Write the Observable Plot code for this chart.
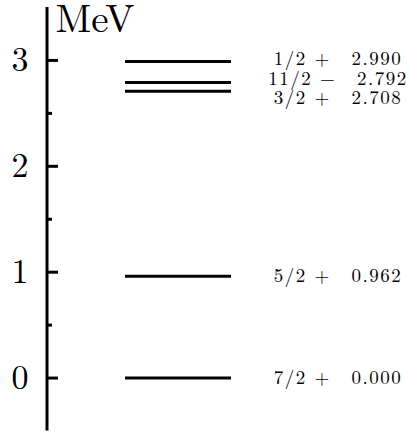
<!DOCTYPE html>
<html>
<head>
<meta charset="utf-8">
<script src="https://cdn.jsdelivr.net/npm/d3@7"></script>
<script src="https://cdn.jsdelivr.net/npm/@observablehq/plot@0.6"></script>
<style>
  html, body { margin: 0; padding: 0; background: #fff; }
</style>
</head>
<body>
<div id="chart"></div>
<script>
// ---- data ----
const energies = [0.000, 0.962, 2.708, 2.792, 2.990];
const spins = ["7/2 +", "5/2 +", "3/2 +", "11/2 \u2212", "1/2 +"];
const majorTicks = [0, 1, 2, 3];
const minorTicks = [0.5, 1.5, 2.5];
const unitLabel = "MeV";
const yDomain = [-0.5, 3.5];

// ---- layout ----
const W = 407, H = 431;
const axisX = 46.5, majorEnd = 58, minorEnd = 52;
const levelX1 = 125, levelX2 = 231;
const labelX = 337.5, tickLabelX = 19.5, unitX = 55;
const labelGap = 0.18; // min label separation (MeV units)
const font = "Latin Modern Roman, Liberation Serif, serif";

// label placement: spread overlapping labels symmetrically about their group mean
const levels = energies.map((e, i) => ({energy: e, spin: spins[i]}));
let groups = levels.slice().sort((a, b) => b.energy - a.energy).map(l => [l]);
const place = g => {
  const m = d3.mean(g, d => d.energy);
  g.forEach((l, i) => l.labelY = m + ((g.length - 1) / 2 - i) * labelGap);
};
groups.forEach(place);
let merged = true;
while (merged) {
  merged = false;
  for (let i = 0; i < groups.length - 1; i++) {
    const a = groups[i], b = groups[i + 1];
    if (a[a.length - 1].labelY - b[0].labelY < labelGap - 1e-9) {
      groups.splice(i, 2, a.concat(b));
      place(groups[i]);
      merged = true;
      break;
    }
  }
}
const labelText = d => `${d.spin}\u2003${d.energy.toFixed(3)}`;

const chart = Plot.plot({
  width: W,
  height: H,
  marginTop: 7,
  marginBottom: 0.5,
  marginLeft: 0,
  marginRight: 0,
  x: {domain: [0, W], range: [0, W], axis: null},
  y: {domain: yDomain, axis: null},
  marks: [
    Plot.ruleX([axisX], {y1: yDomain[0], y2: yDomain[1], stroke: "#000", strokeWidth: 3}),
    Plot.ruleY(majorTicks, {y: d => d, x1: axisX, x2: majorEnd, stroke: "#000", strokeWidth: 3}),
    Plot.ruleY(minorTicks, {y: d => d, x1: axisX, x2: minorEnd, stroke: "#000", strokeWidth: 3}),
    Plot.text(majorTicks, {x: tickLabelX, y: d => d, text: d => String(d), fontSize: 34, fontFamily: font, textAnchor: "middle", fill: "#000"}),
    Plot.text([unitLabel], {x: unitX, y: yDomain[1], text: d => d, fontSize: 39, fontFamily: font, textAnchor: "start", lineAnchor: "top", dy: -3, fill: "#000"}),
    Plot.ruleY(levels, {y: "energy", x1: levelX1, x2: levelX2, stroke: "#000", strokeWidth: 3}),
    Plot.text(levels, {x: labelX, y: "labelY", text: labelText, fontSize: 19, fontFamily: font, textAnchor: "middle", fill: "#000"})
  ]
});

const labelSet = new Set(levels.map(labelText));
d3.select(chart).selectAll("text")
  .filter(function() { return labelSet.has(this.textContent); })
  .style("letter-spacing", "1.5px");
document.getElementById("chart").appendChild(chart);
</script>
</body>
</html>
